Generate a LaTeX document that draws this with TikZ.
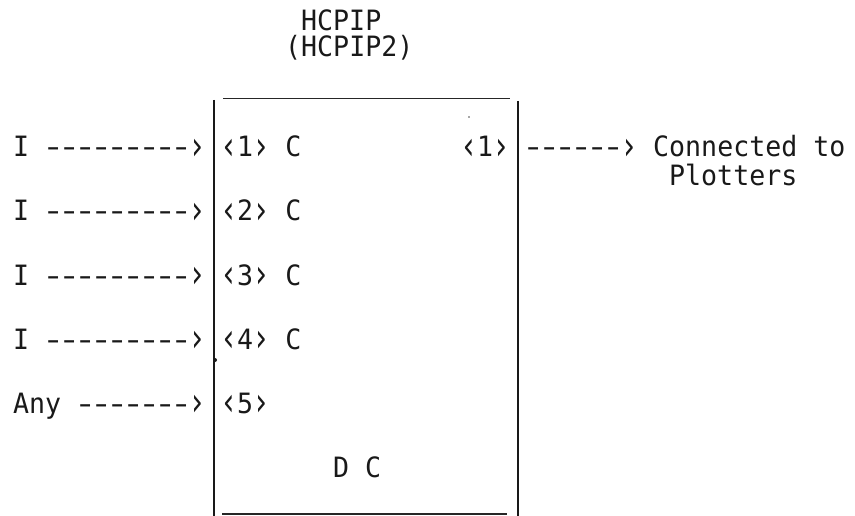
\documentclass[tikz,border=0pt]{standalone}
\usepackage{fontspec}
\usepackage{graphicx}
\setmonofont[FakeStretch=0.95]{DejaVu Sans Mono}
\newcommand\dsh{\makebox[\fontcharwd\font`\-]{\scalebox{1.45}[1]{-}}}
\newcommand\lch{\makebox[\fontcharwd\font`\-]{\raisebox{-2.6pt}{\scalebox{1.1}[1.4]{‹}}}}
\newcommand\rch{\makebox[\fontcharwd\font`\-]{\raisebox{-2.6pt}{\scalebox{1.1}[1.4]{›}}}}
\begin{document}
\begin{tikzpicture}[x=1pt,y=-1pt,
  txt/.style={anchor=base west, inner sep=0pt, font=\ttfamily\fontsize{28}{28}\selectfont, text=black!90},
  vline/.style={line width=2.4pt, black!90},
  hline/.style={line width=1.9pt, black!85}]
\useasboundingbox (0,0) rectangle (855,516);
% title
\node[txt] (t1) at (301,31) {HCPIP};
\node[txt] (t2) at (285,57) {(HCPIP2)};
% box
\coordinate (lt) at (214,100); \coordinate (lb) at (214,516);
\coordinate (rt) at (518,101); \coordinate (rb) at (518,516);
\coordinate (tl) at (223,98.5); \coordinate (tr) at (510,98.5);
\coordinate (bl) at (222,514); \coordinate (br) at (507,514);
\draw[vline] (lt) -- (lb);
\draw[vline] (rt) -- (rb);
\draw[hline] (tl) -- (tr);
\draw[hline] (bl) -- (br);
% inputs
\node[txt] (i1) at (13,157) {I \dsh\dsh\dsh\dsh\dsh\dsh\dsh\dsh\dsh\rch};
\node[txt] (p1) at (221,157) {\lch 1\rch{} C};
\node[txt] (i2) at (13,221) {I \dsh\dsh\dsh\dsh\dsh\dsh\dsh\dsh\dsh\rch};
\node[txt] (p2) at (221,221) {\lch 2\rch{} C};
\node[txt] (i3) at (13,285) {I \dsh\dsh\dsh\dsh\dsh\dsh\dsh\dsh\dsh\rch};
\node[txt] (p3) at (221,285) {\lch 3\rch{} C};
\node[txt] (i4) at (13,349) {I \dsh\dsh\dsh\dsh\dsh\dsh\dsh\dsh\dsh\rch};
\node[txt] (p4) at (221,349) {\lch 4\rch{} C};
\node[txt] (i5) at (13,413) {Any \dsh\dsh\dsh\dsh\dsh\dsh\dsh\rch};
\node[txt] (p5) at (221,413) {\lch 5\rch};
\node[txt] (dc) at (333,477) {D C};
% output
\node[txt] (o1) at (461,157) {\lch 1\rch};
\node[txt] (oa) at (525,157) {\dsh\dsh\dsh\dsh\dsh\dsh\rch};
\node[txt] (oc) at (653,157) {Connected to};
\node[txt] (op) at (669,186) {Plotters};
% specks
\fill[black!90] (215,360) circle (2);
\fill[black!70] (469,117) circle (0.9);
\end{tikzpicture}
\end{document}
